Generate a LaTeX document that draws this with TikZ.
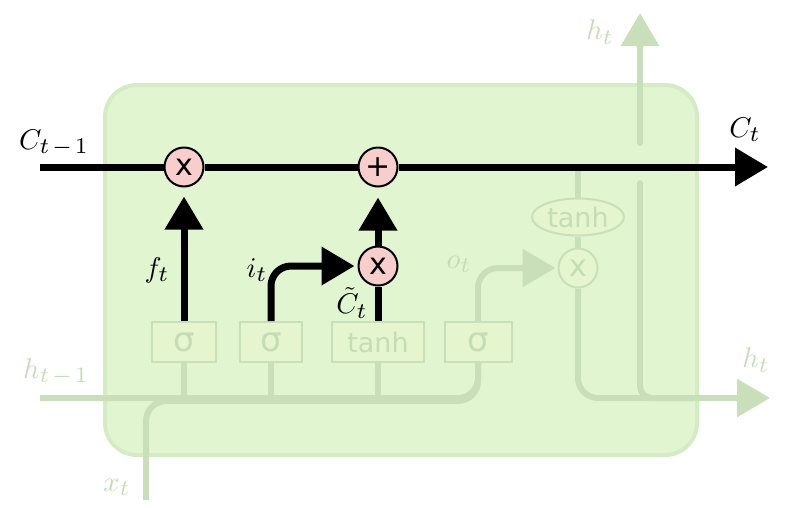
\RequirePackage{fix-cm}
\documentclass[tikz,border=0pt]{standalone}
\usepackage{fontspec}
\newfontfamily\gatefont{DejaVu Sans}
\usetikzlibrary{arrows.meta,shapes.geometric}
\DeclareMathSizes{10}{10}{7.8}{6}
\newcommand{\cellmath}[1]{\scalebox{2.85}{$#1$}}
\definecolor{cellfill}{HTML}{E0F5D0}
\definecolor{celledge}{HTML}{D4ECC4}
\definecolor{faded}{HTML}{C9DFBA}
\definecolor{fadedtext}{HTML}{C6DCB6}
\definecolor{layerfill}{HTML}{E5F5CD}
\definecolor{gatefill}{HTML}{F8CECC}
\tikzset{
  pw/.style={draw=black,fill=gatefill,circle,line width=2pt,minimum size=39pt,inner sep=0pt,font=\gatefont\fontsize{30}{30}\selectfont},
  fadedpw/.style={pw,draw=faded,fill=layerfill,text=fadedtext},
  layer/.style={draw=faded,fill=layerfill,line width=2pt,minimum height=40pt,inner sep=0pt,text=fadedtext},
  sig/.style={layer,minimum width=64pt,font=\gatefont\fontsize{34}{34}\selectfont},
  tanhbox/.style={layer,minimum width=92pt,font=\gatefont\fontsize{27}{27}\selectfont},
  lbl/.style={inner sep=0pt},
  fadedlbl/.style={lbl,text=fadedtext},
  cline/.style={line width=7pt},
  fline/.style={faded,line width=6pt},
  head/.style={-{Triangle[width=37pt,length=33pt]}}
}
\begin{document}
\begin{tikzpicture}[x=1pt,y=-1pt]
\useasboundingbox (0,0) rectangle (800,507);
\path[draw=celledge,fill=cellfill,line width=4pt,rounded corners=32pt] (105,85) rectangle (697,455);

\node[sig] (sigf) at (184,342) {σ};
\node[sig,minimum width=62pt] (sigi) at (271,342) {σ};
\node[tanhbox] (tanhl) at (378,342) {tanh};
\node[sig,minimum width=67pt] (sigo) at (478,342) {σ};
\node[ellipse,draw=faded,fill=layerfill,line width=2pt,minimum width=92pt,minimum height=37pt,inner sep=0pt,text=fadedtext,font=\gatefont\fontsize{27}{27}\selectfont] (tanhc) at (578,217) {tanh};
\node[fadedpw] (mulo) at (578,268) {x};

\coordinate (cin) at (40,167);
\coordinate (cout) at (768,167);
\coordinate (ctap) at (578,167);
\coordinate (hin) at (40,398);
\coordinate (hbend) at (478,401);
\coordinate (hout) at (770,398);
\coordinate (xin) at (146,500);
\coordinate (gapt) at (640,143);
\coordinate (gapb) at (640,183);
\coordinate (htop) at (640,13);

\path[draw,fline,rounded corners=20pt] (hin) -| (sigo);
\path[draw,fline,rounded corners=20pt] (xin) |- (hbend) -- (sigo);
\path[draw,fline] (sigf) -- (sigf |- hin);
\path[draw,fline] (sigi) -- (sigi |- hin);
\path[draw,fline] (tanhl) -- (tanhl |- hin);
\path[draw,fline,head,rounded corners=20pt,shorten >=2pt] (sigo) |- (mulo);
\path[draw,fline] (mulo) -- (tanhc);
\path[draw,fline] (tanhc) -- (ctap);
\path[draw,fline,head,rounded corners=20pt] (mulo) |- (hout);
\path[draw,fline,line cap=round,rounded corners=12pt] (gapb) |- (700,398);
\path[draw,fline,head,line cap=round] (gapt) -- (htop);

\node[pw] (mulf) at (184,167) {x};
\node[pw] (add) at (378,167) {+};
\node[pw] (muli) at (378,266) {x};

\path[draw,cline] (cin) -- (mulf);
\path[draw,cline] (mulf) -- (add);
\path[draw,cline,head] (add) -- (cout);
\path[draw,cline,head,shorten >=9pt] (sigf) -- (mulf);
\path[draw,cline,head,rounded corners=20pt,shorten >=3pt] (sigi) |- (muli);
\path[draw,cline] (tanhl) -- (muli);
\path[draw,cline,head,shorten >=10pt] (muli) -- (add);

\node[lbl] (lcprev) at (54,143) {\cellmath{C_{t\mkern2mu-\mkern2mu1}}};
\node[lbl] (lcnext) at (745,130) {\cellmath{C_t}};
\node[lbl] (lf) at (157,270) {\cellmath{f_t}};
\node[lbl] (li) at (257,270) {\cellmath{i_t}};
\node[lbl] (lctil) at (352,303) {\cellmath{\tilde{C}_t}};
\node[fadedlbl] (lo) at (459,264) {\cellmath{o_t}};
\node[fadedlbl] (lhtop) at (600,32) {\cellmath{h_t}};
\node[fadedlbl] (lhprev) at (56,372) {\cellmath{h_{t\mkern2mu-\mkern2mu1}}};
\node[fadedlbl] (lhnext) at (756,360) {\cellmath{h_t}};
\node[fadedlbl] (lx) at (117,487) {\cellmath{x_t}};
\end{tikzpicture}
\end{document}
